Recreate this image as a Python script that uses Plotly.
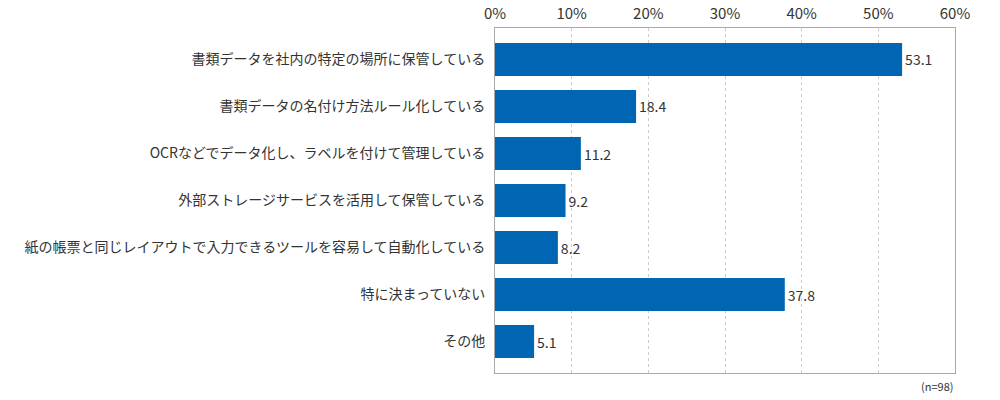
import plotly.graph_objects as go

categories = [
    '書類データを社内の特定の場所に保管している',
    '書類データの名付け方法ルール化している',
    'OCRなどでデータ化し、ラベルを付けて管理している',
    '外部ストレージサービスを活用して保管している',
    '紙の帳票と同じレイアウトで入力できるツールを容易して自動化している',
    '特に決まっていない',
    'その他',
]
values = [53.1, 18.4, 11.2, 9.2, 8.2, 37.8, 5.1]
tick_vals = [0, 10, 20, 30, 40, 50, 60]
tick_text = ['0%', '10%', '20%', '30%', '40%', '50%', '60%']

FONT = 'Noto Sans CJK JP'
TEXT_COLOR = '#333333'
BAR_COLOR = '#0066b3'

fig = go.Figure(
    go.Bar(
        x=values,
        y=categories,
        orientation='h',
        marker=dict(color=BAR_COLOR, line=dict(width=0)),
        width=0.7,
        text=[f'{v:.1f}' for v in values],
        textposition='outside',
        textfont=dict(size=14, color=TEXT_COLOR, family=FONT),
        cliponaxis=False,
    )
)

fig.update_xaxes(
    side='top',
    range=[0, 60],
    tickvals=tick_vals,
    ticktext=tick_text,
    tickfont=dict(size=15, color=TEXT_COLOR, family=FONT),
    showgrid=True,
    gridcolor='#cccccc',
    griddash='dot',
    gridwidth=1,
    showline=True,
    linecolor='#aaaaaa',
    mirror=True,
    zeroline=False,
    ticks='',
    automargin=False,
    ticklabelstandoff=2,
)
fig.update_yaxes(
    range=[len(categories) - 1 + 0.67, -0.67],
    tickfont=dict(size=14, color=TEXT_COLOR, family=FONT),
    showline=True,
    linecolor='#aaaaaa',
    mirror=True,
    ticks='',
    ticklabelstandoff=6,
    automargin=False,
)

fig.add_annotation(
    text='(n=98)',
    xref='paper', yref='paper',
    x=1.0, y=0.0,
    xanchor='right', yanchor='top',
    yshift=-3,
    showarrow=False,
    font=dict(size=11, color=TEXT_COLOR, family=FONT),
)

fig.update_layout(
    width=1000,
    height=400,
    margin=dict(l=495, r=45, t=28, b=27),
    plot_bgcolor='white',
    paper_bgcolor='white',
    showlegend=False,
)

# drop the default body margin so the figure fills the window
fig.write_html(
    'out.html',
    config={'displayModeBar': False},
    post_script="document.body.style.margin='0';",
)
